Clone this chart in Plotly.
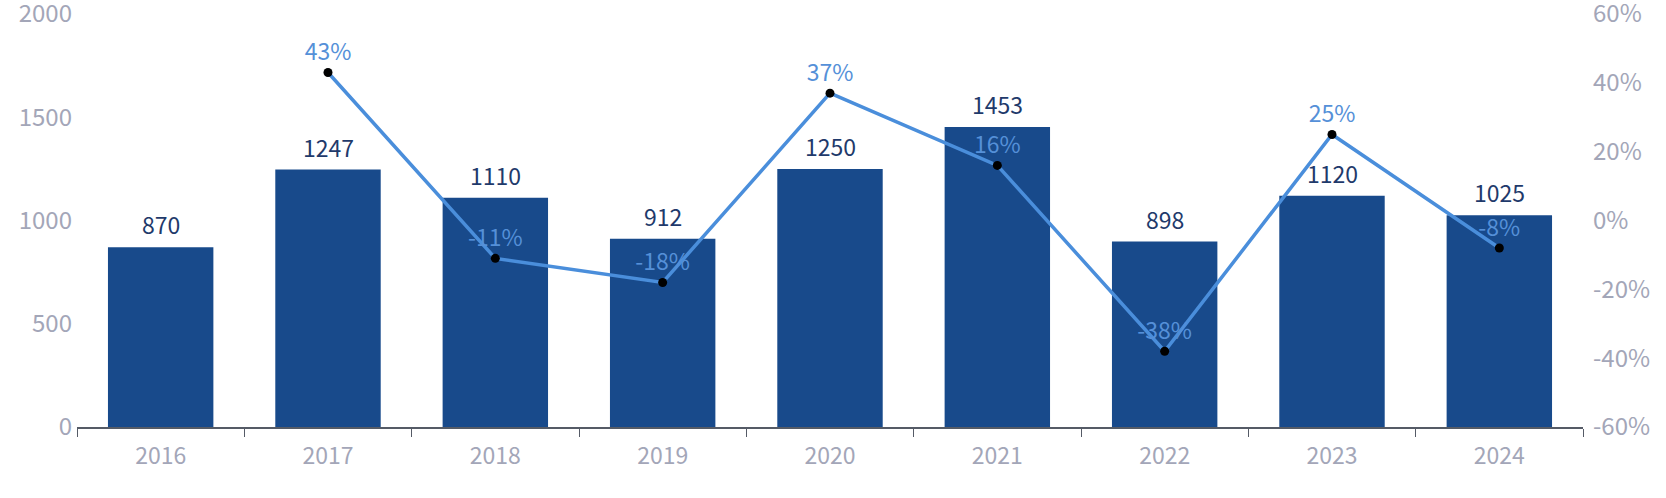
import plotly.graph_objects as go

years = ["2016", "2017", "2018", "2019", "2020", "2021", "2022", "2023", "2024"]
counts = [870, 1247, 1110, 912, 1250, 1453, 898, 1120, 1025]
growth_years = ["2017", "2018", "2019", "2020", "2021", "2022", "2023", "2024"]
growth = [43, -11, -18, 37, 16, -38, 25, -8]
left_ticks = [0, 500, 1000, 1500, 2000]
right_ticks = [-60, -40, -20, 0, 20, 40, 60]

FONT = "Noto Sans CJK SC"
fig = go.Figure()
fig.add_trace(go.Bar(
    x=years, y=counts,
    marker=dict(color="#184A8B", line=dict(width=0)),
    width=0.63,
))
fig.add_trace(go.Scatter(
    x=growth_years, y=growth, yaxis="y2", mode="lines+markers+text",
    line=dict(color="#4A8EDB", width=3.5),
    marker=dict(color="#000000", size=9),
    text=[f"{v}%" for v in growth], textposition="top center",
    textfont=dict(family=FONT, size=23, color="#5590D8"),
    cliponaxis=False,
))
# bar value labels: category axes place annotations by category index
for i, v in enumerate(counts):
    fig.add_annotation(
        x=i, y=v, xref="x", yref="y", text=str(v), showarrow=False,
        yanchor="middle", yshift=23,
        font=dict(family=FONT, size=23, color="#1F3A6B"),
    )
fig.update_layout(
    width=1666, height=498,
    margin=dict(l=77, r=83, t=0, b=71, autoexpand=False),
    plot_bgcolor="white", paper_bgcolor="white",
    showlegend=False,
    font=dict(family=FONT, size=23, color="#A3A6B8"),
    xaxis=dict(
        type="category", categoryorder="array", categoryarray=years,
        range=[-0.5, len(years) - 0.5],
        showgrid=False, showline=True, linecolor="#555B66", linewidth=1.5,
        ticks="outside", tickson="boundaries", ticklen=8, tickcolor="#555B66",
        ticklabelstandoff=8,
        tickfont=dict(family=FONT, size=23, color="#A3A6B8"),
    ),
    yaxis=dict(
        range=[0, 2068], tickmode="array", tickvals=left_ticks,
        ticktext=[str(v) for v in left_ticks], showgrid=False,
        zeroline=False, showline=False, ticks="", automargin=False,
        ticklabeloverflow="allow", ticklabelstandoff=4,
        tickfont=dict(family=FONT, size=24, color="#A3A6B8"),
    ),
    yaxis2=dict(
        overlaying="y", side="right", range=[-60, 64.07], tickmode="array",
        tickvals=right_ticks, ticktext=[f"{v}%" for v in right_ticks],
        showgrid=False, zeroline=False, showline=False, automargin=False,
        ticklabeloverflow="allow", ticklabelstandoff=9,
        tickfont=dict(family=FONT, size=24, color="#A3A6B8"),
    ),
)
fig.write_html("out.html", post_script="document.body.style.margin='0';",
               config={"displayModeBar": False})
